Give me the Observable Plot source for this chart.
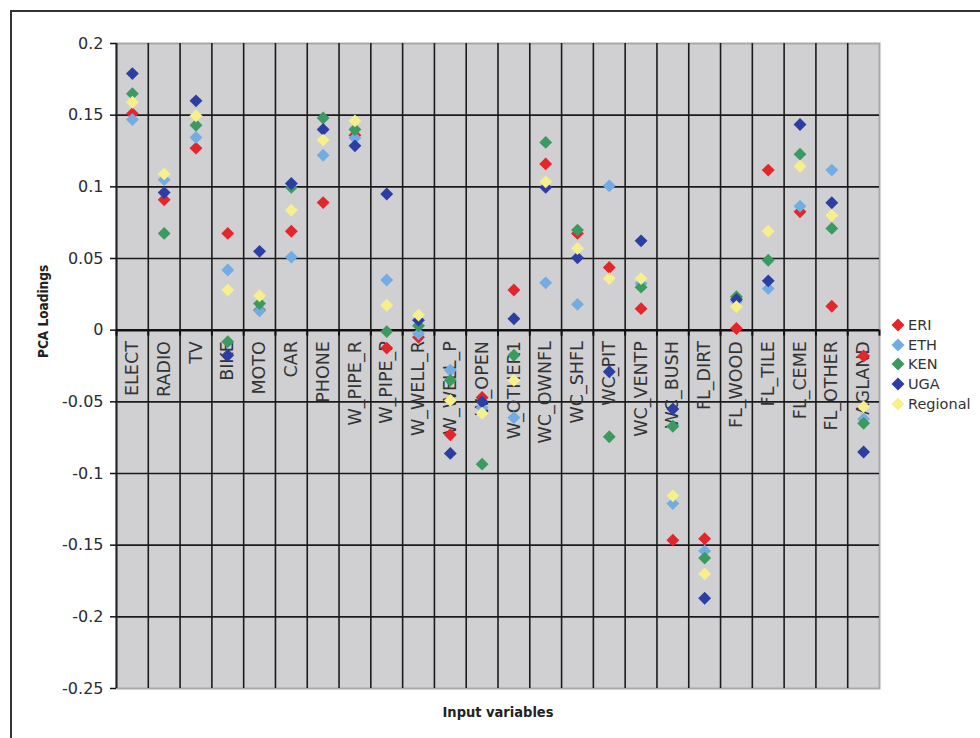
<!DOCTYPE html>
<html><head><meta charset="utf-8">
<script src="https://cdn.jsdelivr.net/npm/d3@7"></script>
<script src="https://cdn.jsdelivr.net/npm/@observablehq/plot@0.6"></script>
<style>
body{margin:0;background:#fff;width:980px;height:738px;position:relative;overflow:hidden;font-family:"DejaVu Sans",sans-serif}
#frame{position:absolute;left:10px;top:10px;right:-4px;bottom:-4px;border-left:2px solid #333;border-top:2px solid #333}
#chart{position:absolute;left:0;top:0}
#legend{position:absolute;left:891px;top:315px;font-size:14.5px;color:#333}
.item{display:flex;align-items:center;height:19.8px}
.item svg{margin-right:3px}
</style></head>
<body>
<div id="frame"></div>
<div id="chart"></div>
<div id="legend"></div>
<script>
const categories = ["ELECT","RADIO","TV","BIKE","MOTO","CAR","PHONE","W_PIPE_R","W_PIPE_P","W_WELL_R","W_WELL_P","W_OPEN","W_OTHER1","WC_OWNFL","WC_SHFL","WC_PIT","WC_VENTP","WC_BUSH","FL_DIRT","FL_WOOD","FL_TILE","FL_CEME","FL_OTHER","AGLAND"];
const eri = [0.151, 0.091, 0.127, 0.0675, 0.014, 0.069, 0.089, 0.136, -0.0125, -0.005, -0.073, -0.047, 0.028, 0.116, 0.0675, 0.0437, 0.015, -0.1465, -0.1455, 0.0012, 0.1117, 0.0826, 0.0167, -0.018];
const eth = [0.147, 0.105, 0.1345, 0.042, 0.0135, 0.051, 0.122, 0.134, 0.035, -0.0025, -0.028, -0.054, -0.061, 0.033, 0.018, 0.1007, 0.0326, -0.121, -0.154, 0.02, 0.029, 0.0865, 0.1117, -0.062];
const ken = [0.165, 0.0675, 0.143, -0.008, 0.0186, 0.0996, 0.148, 0.140, -0.001, 0.003, -0.035, -0.0935, -0.0175, 0.131, 0.0698, -0.0744, 0.030, -0.067, -0.159, 0.0233, 0.0488, 0.1228, 0.071, -0.065];
const uga = [0.179, 0.096, 0.160, -0.0175, 0.055, 0.1023, 0.140, 0.1286, 0.095, 0.007, -0.086, -0.050, 0.008, 0.0996, 0.0505, -0.029, 0.0623, -0.055, -0.187, 0.0214, 0.0344, 0.1435, 0.0889, -0.085];
const regional = [0.159, 0.109, 0.1496, 0.028, 0.024, 0.0837, 0.1326, 0.146, 0.0174, 0.0105, -0.049, -0.058, -0.035, 0.1035, 0.057, 0.036, 0.036, -0.1156, -0.170, 0.0163, 0.069, 0.1144, 0.080, -0.0535];
const seriesNames = ["ERI","ETH","KEN","UGA","Regional"];
const seriesColors = ["#e2262a","#72ace4","#3b9a60","#2c3ea3","#f6ef8c"];
const yTicks = [0.2,0.15,0.1,0.05,0,-0.05,-0.1,-0.15,-0.2,-0.25];

const seriesValues = [eri, eth, ken, uga, regional];
const rows = [];
seriesValues.forEach((vals, s) => vals.forEach((v, i) => rows.push({series: seriesNames[s], cat: categories[i], idx: i, value: v})));
const n = categories.length;
const fmt = d => String(+d.toFixed(2));

const chart = Plot.plot({
  width: 980, height: 738,
  marginLeft: 116, marginTop: 43, marginRight: 101, marginBottom: 50,
  style: {fontFamily: "DejaVu Sans, sans-serif", background: "transparent"},
  x: {domain: [0, n], axis: null},
  y: {domain: [-0.25, 0.2], axis: null},
  color: {domain: seriesNames, range: seriesColors},
  marks: [
    Plot.frame({fill: "#d0d0d3", stroke: "#a8a8aa", strokeWidth: 2}),
    Plot.ruleY(yTicks.filter(d => d !== 0 && d !== 0.2 && d !== -0.25), {stroke: "#1b1b1b", strokeWidth: 1.6}),
    Plot.ruleX(d3.range(1, n), {stroke: "#1b1b1b", strokeWidth: 1.6}),
    Plot.ruleX([0], {stroke: "#222", strokeWidth: 2}),
    Plot.ruleY([0], {stroke: "#111", strokeWidth: 2.5}),
    Plot.ruleX(d3.range(0, n + 1), {y1: 0, y2: 0, insetBottom: -6, stroke: "#111", strokeWidth: 2}),
    Plot.axisY({ticks: yTicks, tickFormat: fmt, tickSize: 6, tickPadding: 7, fontSize: 16, label: null, stroke: "#111", strokeWidth: 1.5, color: "#2b2b33"}),
    Plot.text(categories, {x: (d, i) => i + 0.5, y: 0, text: d => d, rotate: -90, textAnchor: "end", dy: 11, fontSize: 17.5, fill: "#333"}),
    Plot.dot(rows, {x: d => d.idx + 0.5, y: "value", fill: "series", symbol: "diamond2", r: 5.8, stroke: null}),
    Plot.text(["PCA Loadings"], {frameAnchor: "left", dx: -73, dy: -8, rotate: -90, fontWeight: "bold", fontSize: 13.5, fontFamily: "DejaVu Sans Condensed, Liberation Sans Narrow, sans-serif", fill: "#222"}),
    Plot.text(["Input variables"], {frameAnchor: "bottom", dy: 28, fontWeight: "bold", fontSize: 14.5, fontFamily: "DejaVu Sans Condensed, Liberation Sans Narrow, sans-serif", fill: "#222"})
  ]
});
document.getElementById("chart").appendChild(chart);

const legend = document.getElementById("legend");
seriesNames.forEach((name, i) => {
  const item = document.createElement("div");
  item.className = "item";
  item.innerHTML = `<svg width="14" height="14"><path d="M7,0.5L13.5,7L7,13.5L0.5,7Z" fill="${seriesColors[i]}"/></svg><span>${name}</span>`;
  legend.appendChild(item);
});
</script>
</body></html>
